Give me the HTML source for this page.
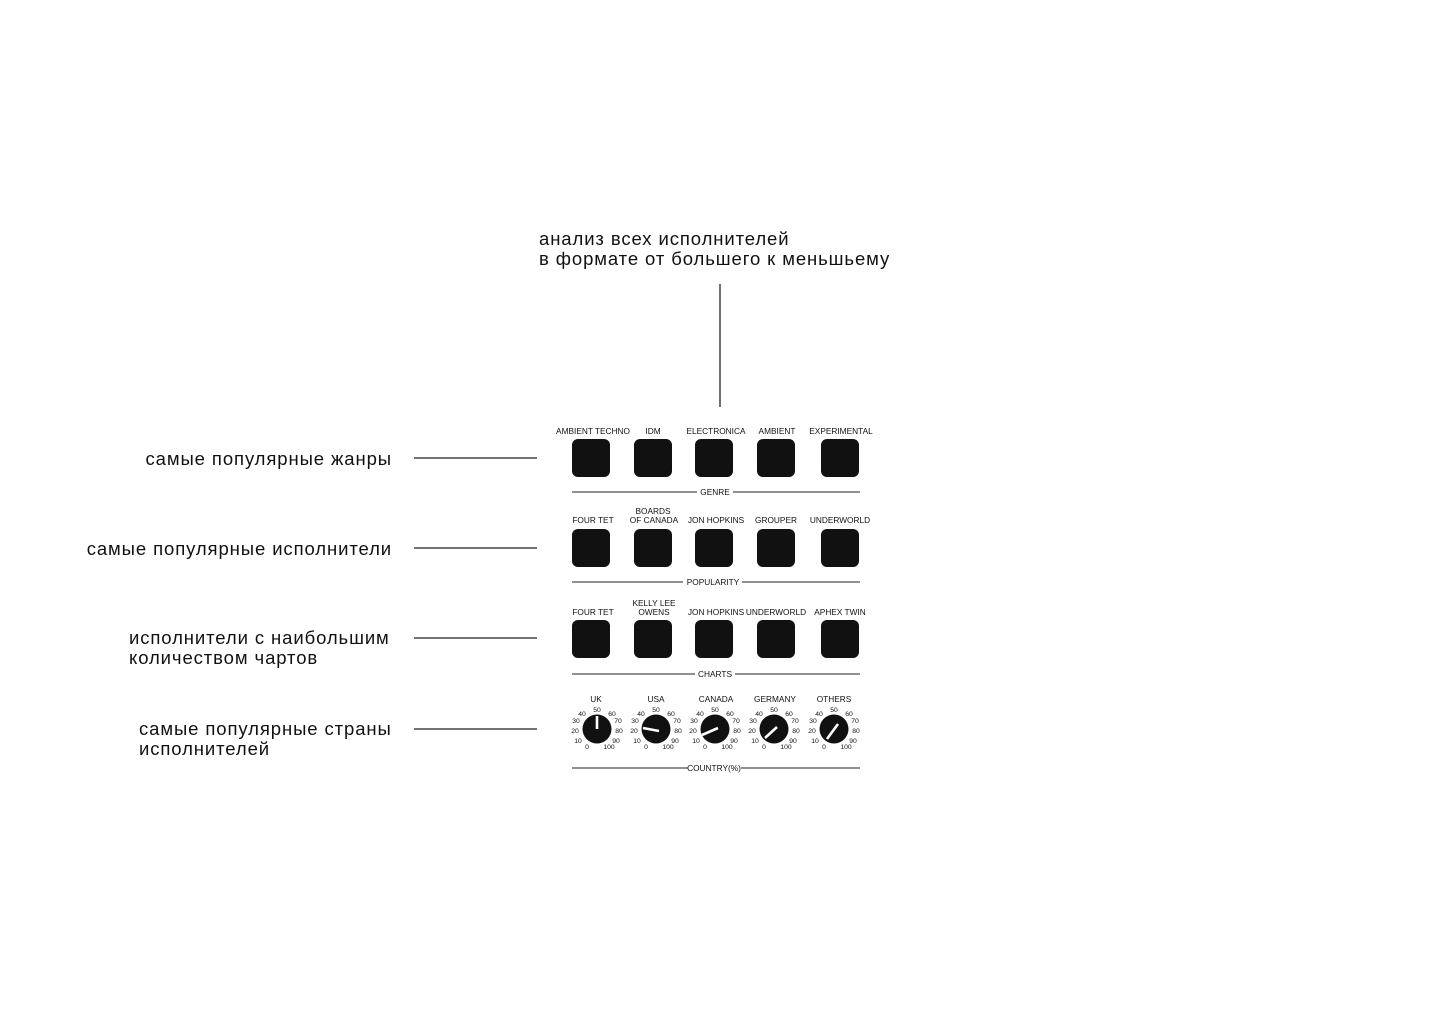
<!DOCTYPE html>
<html><head><meta charset="utf-8"><style>
body{margin:0;background:#fff;}
svg{display:block}
text{font-family:"Liberation Sans",sans-serif;fill:#111}
.b{font-size:18.5px;letter-spacing:0.9px}
.s{font-size:8.3px}
.n{font-size:6.8px}
</style></head><body>
<svg width="1440" height="1020" viewBox="0 0 1440 1020">
<text class="b" x="539" y="245">анализ всех исполнителей</text>
<text class="b" x="539" y="265">в формате от большего к меньшьему</text>
<line x1="720" y1="284" x2="720" y2="407" stroke="#222" stroke-width="1.3"/>
<text class="b" x="392" y="465" text-anchor="end">самые популярные жанры</text>
<text class="b" x="392" y="555" text-anchor="end">самые популярные исполнители</text>
<text class="b" x="129" y="644">исполнители с наибольшим</text>
<text class="b" x="129" y="664">количеством чартов</text>
<text class="b" x="139" y="735">самые популярные страны</text>
<text class="b" x="139" y="755">исполнителей</text>
<g stroke="#222" stroke-width="1.2">
<line x1="414" y1="458" x2="537" y2="458"/>
<line x1="414" y1="548" x2="537" y2="548"/>
<line x1="414" y1="638" x2="537" y2="638"/>
<line x1="414" y1="729" x2="537" y2="729"/>
</g>
<g fill="#111">
<rect x="572" y="439" width="38" height="38" rx="6"/><rect x="634" y="439" width="38" height="38" rx="6"/><rect x="695" y="439" width="38" height="38" rx="6"/><rect x="757" y="439" width="38" height="38" rx="6"/><rect x="821" y="439" width="38" height="38" rx="6"/>
<rect x="572" y="529" width="38" height="38" rx="6"/><rect x="634" y="529" width="38" height="38" rx="6"/><rect x="695" y="529" width="38" height="38" rx="6"/><rect x="757" y="529" width="38" height="38" rx="6"/><rect x="821" y="529" width="38" height="38" rx="6"/>
<rect x="572" y="620" width="38" height="38" rx="6"/><rect x="634" y="620" width="38" height="38" rx="6"/><rect x="695" y="620" width="38" height="38" rx="6"/><rect x="757" y="620" width="38" height="38" rx="6"/><rect x="821" y="620" width="38" height="38" rx="6"/>
</g>
<g text-anchor="middle">
<text class="s" x="593" y="434">AMBIENT TECHNO</text><text class="s" x="653" y="434">IDM</text><text class="s" x="716" y="434">ELECTRONICA</text><text class="s" x="777" y="434">AMBIENT</text><text class="s" x="841" y="434">EXPERIMENTAL</text>
<text class="s" x="593" y="523">FOUR TET</text><text class="s" x="653" y="514">BOARDS</text><text class="s" x="654" y="523">OF CANADA</text><text class="s" x="716" y="523">JON HOPKINS</text><text class="s" x="776" y="523">GROUPER</text><text class="s" x="840" y="523">UNDERWORLD</text>
<text class="s" x="593" y="615">FOUR TET</text><text class="s" x="654" y="606">KELLY LEE</text><text class="s" x="654" y="615">OWENS</text><text class="s" x="716" y="615">JON HOPKINS</text><text class="s" x="776" y="615">UNDERWORLD</text><text class="s" x="840" y="615">APHEX TWIN</text>
<text class="s" x="596" y="702">UK</text><text class="s" x="656" y="702">USA</text><text class="s" x="716" y="702">CANADA</text><text class="s" x="775" y="702">GERMANY</text><text class="s" x="834" y="702">OTHERS</text>
<text class="s" x="715" y="495">GENRE</text><text class="s" x="713" y="585">POPULARITY</text><text class="s" x="715" y="677">CHARTS</text><text class="s" x="714" y="771">COUNTRY(%)</text>
</g>
<g stroke="#222" stroke-width="1.1">
<line x1="572" y1="492" x2="697" y2="492"/><line x1="733" y1="492" x2="860" y2="492"/>
<line x1="572" y1="582" x2="683" y2="582"/><line x1="742" y1="582" x2="860" y2="582"/>
<line x1="572" y1="674" x2="695" y2="674"/><line x1="735" y1="674" x2="860" y2="674"/>
<line x1="572" y1="768" x2="688" y2="768"/><line x1="741" y1="768" x2="860" y2="768"/>
</g>
<defs>
<g id="k">
<circle cx="0" cy="0" r="14.5" fill="#111"/>
<text class="n" text-anchor="middle" x="-10" y="20">0</text><text class="n" text-anchor="middle" x="-19" y="14">10</text><text class="n" text-anchor="middle" x="-22" y="4">20</text><text class="n" text-anchor="middle" x="-21" y="-6">30</text><text class="n" text-anchor="middle" x="-15" y="-13">40</text><text class="n" text-anchor="middle" x="0" y="-17">50</text><text class="n" text-anchor="middle" x="15" y="-13">60</text><text class="n" text-anchor="middle" x="21" y="-6">70</text><text class="n" text-anchor="middle" x="22" y="4">80</text><text class="n" text-anchor="middle" x="19" y="14">90</text><text class="n" text-anchor="middle" x="12" y="20">100</text>
</g>
</defs>
<use href="#k" x="597" y="729"/>
<use href="#k" x="656" y="729"/>
<use href="#k" x="715" y="729"/>
<use href="#k" x="774" y="729"/>
<use href="#k" x="834" y="729"/>
<g stroke="#fff" stroke-width="2.6">
<line x1="597" y1="729" x2="597" y2="716"/>
<line x1="659" y1="731" x2="643" y2="728"/>
<line x1="718" y1="728" x2="702" y2="735"/>
<line x1="777" y1="727" x2="765" y2="738"/>
<line x1="838" y1="724" x2="827" y2="739"/>
</g>
</svg>
</body></html>
